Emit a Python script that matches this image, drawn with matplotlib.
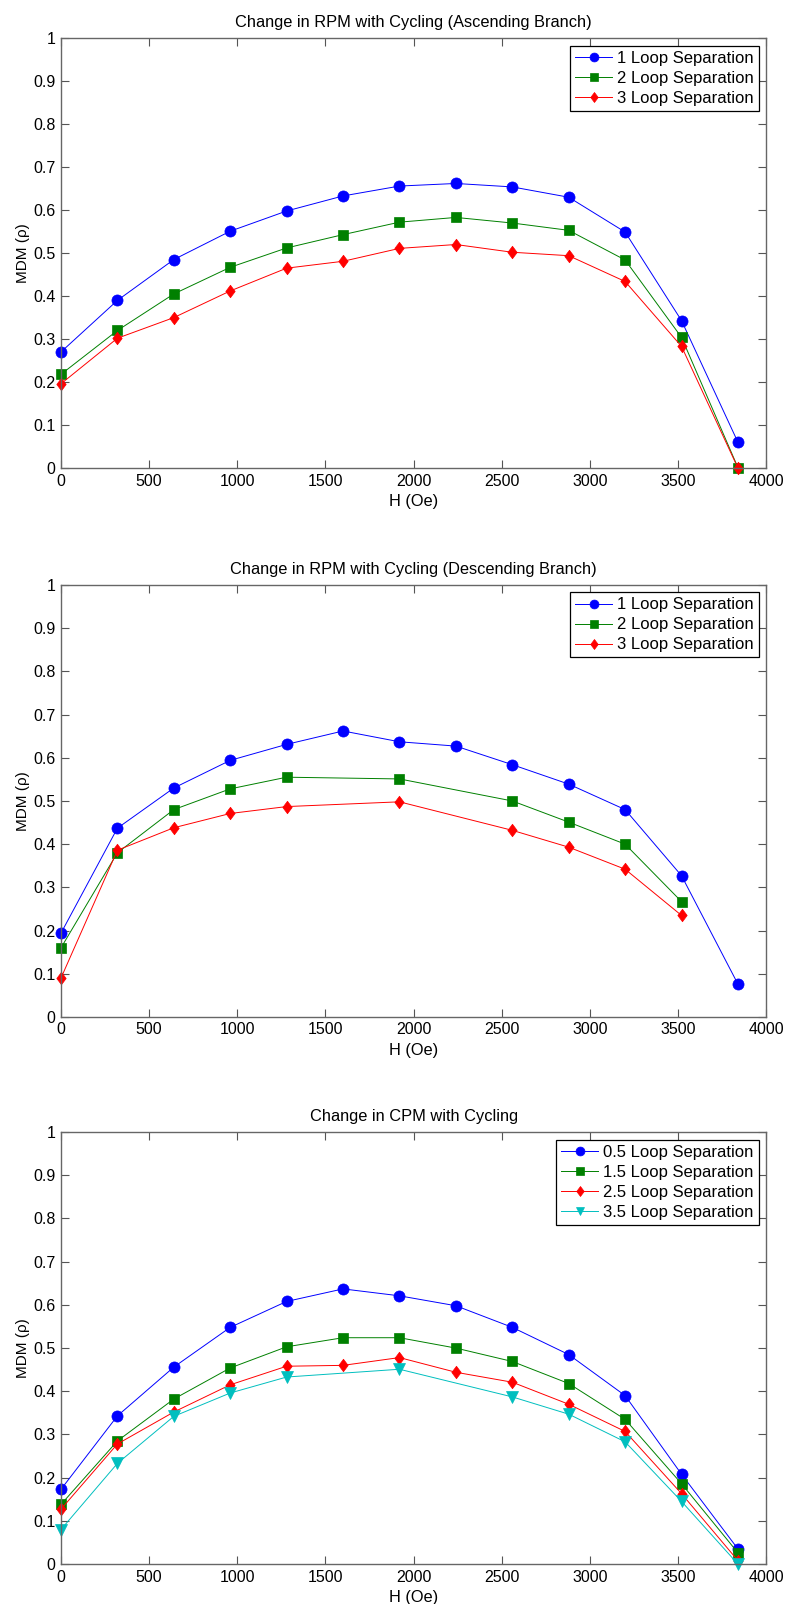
import matplotlib.pyplot as plt
from matplotlib.path import Path

plt.rcParams['font.family'] = ['Liberation Sans', 'DejaVu Sans']
plt.rcParams['font.size'] = 10

# applied field (Oe)
H = [0, 320, 640, 960, 1280, 1600, 1920, 2240, 2560, 2880, 3200, 3520, 3840]

# ascending branch, RPM
asc_1 = [0.270, 0.390, 0.485, 0.551, 0.598, 0.633, 0.656, 0.662, 0.654, 0.630, 0.549, 0.343, 0.060]
asc_2 = [0.218, 0.320, 0.405, 0.467, 0.512, 0.543, 0.572, 0.583, 0.570, 0.553, 0.484, 0.304, 0.001]
asc_3 = [0.196, 0.302, 0.350, 0.412, 0.465, 0.481, 0.511, 0.520, 0.502, 0.494, 0.434, 0.283, 0.000]

# descending branch, RPM
H_desc_1 = [0, 320, 640, 960, 1280, 1600, 1920, 2240, 2560, 2880, 3200, 3520, 3840]
desc_1 = [0.194, 0.437, 0.530, 0.594, 0.631, 0.662, 0.637, 0.627, 0.584, 0.539, 0.480, 0.327, 0.076]
H_desc_23 = [0, 320, 640, 960, 1280, 1920, 2560, 2880, 3200, 3520]
desc_2 = [0.160, 0.380, 0.480, 0.528, 0.555, 0.551, 0.500, 0.451, 0.400, 0.267]
desc_3 = [0.090, 0.386, 0.438, 0.471, 0.487, 0.498, 0.432, 0.393, 0.342, 0.235]

# CPM
cpm_05 = [0.173, 0.343, 0.456, 0.548, 0.608, 0.637, 0.621, 0.598, 0.548, 0.485, 0.390, 0.208, 0.035]
cpm_15 = [0.138, 0.285, 0.382, 0.454, 0.503, 0.524, 0.524, 0.500, 0.469, 0.418, 0.335, 0.186, 0.026]
cpm_25 = [0.127, 0.278, 0.352, 0.415, 0.458, 0.460, 0.478, 0.444, 0.421, 0.370, 0.307, 0.163, 0.008]
H_cpm_35 = [0, 320, 640, 960, 1280, 1920, 2560, 2880, 3200, 3520, 3840]
cpm_35 = [0.080, 0.233, 0.342, 0.396, 0.433, 0.451, 0.387, 0.347, 0.283, 0.145, 0.000]

# matlab-style diamond: a bit wider than matplotlib's thin one
diamond = Path([(0, 1), (0.75, 0), (0, -1), (-0.75, 0), (0, 1)],
               [Path.MOVETO, Path.LINETO, Path.LINETO, Path.LINETO, Path.CLOSEPOLY])

styles = {
    'b': dict(color='#0000ff', marker='o', markersize=8),
    'g': dict(color='#008000', marker='s', markersize=7),
    'r': dict(color='#ff0000', marker=diamond, markersize=9),
    'c': dict(color='#00bfbf', marker='v', markersize=8),
}


def setup_axes(ax, title):
    ax.set_xlim(0, 4000)
    ax.set_ylim(0, 1)
    ax.set_xticks(range(0, 4001, 500))
    ax.set_yticks([i / 10 for i in range(11)])
    ax.set_yticklabels(['0'] + ['%.1f' % (i / 10) for i in range(1, 10)] + ['1'])
    ax.tick_params(direction='in', top=True, right=True, length=6, width=0.8,
                   color='#555555', labelsize=11.5, pad=4)
    for s in ax.spines.values():
        s.set_color('#666666')
        s.set_linewidth(1.0)
    ax.set_title(title, fontsize=11.8, pad=8)
    ax.set_xlabel('H (Oe)', fontsize=11.8, labelpad=4)
    ax.set_ylabel('MDM (ρ)', fontsize=11, labelpad=2)


def draw(ax, x, y, key, label):
    ax.plot(x, y, linewidth=0.7, label=label, markeredgewidth=0.5,
            clip_on=False, **styles[key])


def legend(ax):
    leg = ax.legend(loc='upper right', fontsize=12, fancybox=False, framealpha=1,
                    edgecolor='black', borderpad=0.3, labelspacing=0.3,
                    handlelength=2.2, handletextpad=0.3, borderaxespad=0.45,
                    markerscale=0.8)
    leg.get_frame().set_linewidth(0.9)


fig = plt.figure(figsize=(7.87, 16.04), dpi=100)
ax1 = fig.add_axes([0.0775, 0.7082, 0.896, 0.268])
ax2 = fig.add_axes([0.0775, 0.366, 0.896, 0.2693])
ax3 = fig.add_axes([0.0775, 0.0249, 0.896, 0.2693])

setup_axes(ax1, 'Change in RPM with Cycling (Ascending Branch)')
draw(ax1, H, asc_1, 'b', '1 Loop Separation')
draw(ax1, H, asc_2, 'g', '2 Loop Separation')
draw(ax1, H, asc_3, 'r', '3 Loop Separation')
legend(ax1)

setup_axes(ax2, 'Change in RPM with Cycling (Descending Branch)')
draw(ax2, H_desc_1, desc_1, 'b', '1 Loop Separation')
draw(ax2, H_desc_23, desc_2, 'g', '2 Loop Separation')
draw(ax2, H_desc_23, desc_3, 'r', '3 Loop Separation')
legend(ax2)

setup_axes(ax3, 'Change in CPM with Cycling')
draw(ax3, H, cpm_05, 'b', '0.5 Loop Separation')
draw(ax3, H, cpm_15, 'g', '1.5 Loop Separation')
draw(ax3, H, cpm_25, 'r', '2.5 Loop Separation')
draw(ax3, H_cpm_35, cpm_35, 'c', '3.5 Loop Separation')
legend(ax3)

fig.savefig('out.png', dpi=100)
